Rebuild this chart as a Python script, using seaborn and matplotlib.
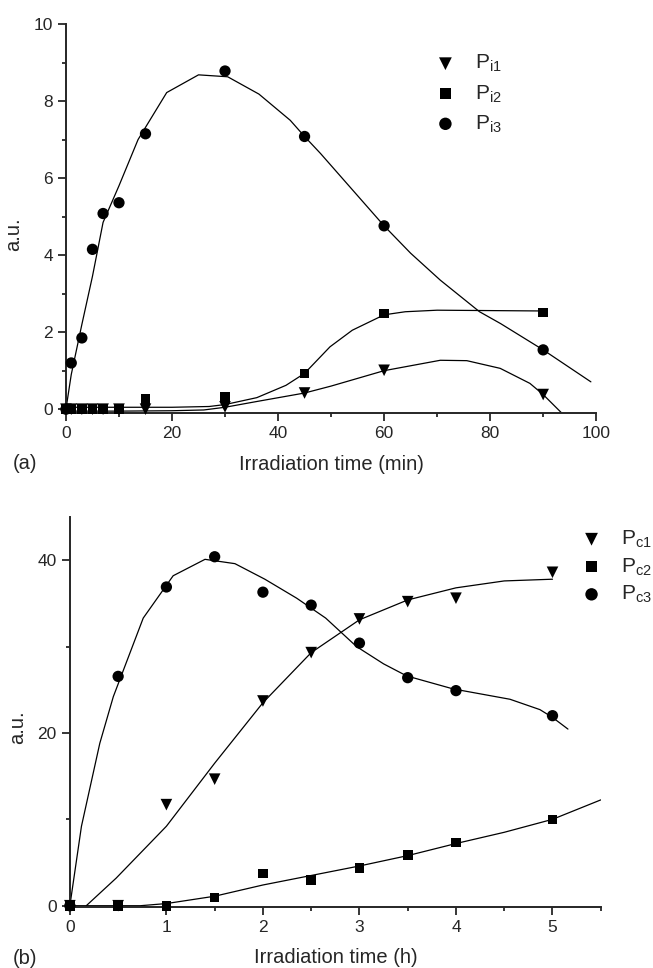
import matplotlib
matplotlib.use('Agg')
import matplotlib.pyplot as plt
from matplotlib.ticker import MultipleLocator
import seaborn as sns

# ---- panel (a): irradiation time in minutes ----
t_min = [0, 1, 3, 5, 7, 10, 15, 30, 45, 60, 90]
pi1 = [0, 0, 0, 0, 0, 0, 0, 0.06, 0.42, 1.01, 0.38]
pi2 = [0, 0, 0, 0, 0, 0, 0.26, 0.32, 0.93, 2.48, 2.51]
pi3 = [0, 1.2, 1.85, 4.15, 5.08, 5.36, 7.15, 8.78, 7.08, 4.76, 1.54]

# fitted curves
pi1_fit_t = [0, 10, 20, 26, 30, 36, 45, 50, 60, 70.6, 75.6, 81.9, 87.5, 90, 93.5]
pi1_fit_y = [-0.05, -0.05, -0.04, -0.02, 0.05, 0.2, 0.42, 0.6, 1.0, 1.27, 1.26, 1.06, 0.67, 0.38, -0.1]
pi2_fit_t = [0, 10, 20, 27, 30, 36, 41.5, 45, 49.8, 54, 60, 64, 70, 90]
pi2_fit_y = [0.05, 0.05, 0.05, 0.07, 0.12, 0.3, 0.62, 0.93, 1.62, 2.05, 2.45, 2.53, 2.57, 2.55]
pi3_fit_t = [0, 1, 3, 5, 7, 10, 13.6, 19, 25, 30.5, 36.4, 42.3, 45, 48, 54, 60, 65, 70.6, 78, 82, 90, 99]
pi3_fit_y = [0, 0.9, 2.2, 3.45, 4.85, 5.8, 7.0, 8.22, 8.68, 8.63, 8.18, 7.5, 7.08, 6.64, 5.7, 4.76, 4.05, 3.35, 2.53, 2.22, 1.54, 0.71]

# ---- panel (b): irradiation time in hours ----
t_h = [0, 0.5, 1, 1.5, 2, 2.5, 3, 3.5, 4, 5]
pc1 = [0, 0, 11.7, 14.65, 23.7, 29.3, 33.2, 35.2, 35.6, 38.6]
pc2 = [0, 0, 0, 0.93, 3.75, 2.98, 4.4, 5.88, 7.3, 10.0]
pc3 = [0, 26.55, 36.9, 40.4, 36.3, 34.8, 30.4, 26.4, 24.9, 22.0]

pc1_fit_t = [0.17, 0.48, 1.0, 1.5, 2.0, 2.5, 3.0, 3.5, 4.0, 4.5, 5.0]
pc1_fit_y = [0, 3.2, 9.2, 16.5, 23.5, 29.3, 33.1, 35.4, 36.8, 37.6, 37.8]
pc2_fit_t = [0, 0.5, 0.73, 1.0, 1.5, 2.0, 2.5, 3.0, 3.5, 4.0, 4.5, 5.0, 5.5]
pc2_fit_y = [0, 0, 0, 0.25, 1.1, 2.4, 3.5, 4.6, 5.8, 7.2, 8.5, 10.0, 12.25]
pc3_fit_t = [0, 0.12, 0.31, 0.45, 0.76, 1.07, 1.4, 1.71, 2.02, 2.35, 2.65, 2.97, 3.25, 3.49, 3.97, 4.56, 4.87, 5.0, 5.16]
pc3_fit_y = [0, 9.2, 18.8, 24.2, 33.3, 38.2, 40.1, 39.6, 37.8, 35.6, 33.3, 30.0, 28.0, 26.6, 25.1, 23.9, 22.7, 21.8, 20.45]

labels_a = ['P$_{i1}$', 'P$_{i2}$', 'P$_{i3}$']
labels_b = ['P$_{c1}$', 'P$_{c2}$', 'P$_{c3}$']

sns.set_style('ticks')
plt.rcParams['font.family'] = ['Liberation Sans', 'DejaVu Sans']
plt.rcParams['mathtext.default'] = 'regular'

fig = plt.figure(figsize=(6.53, 9.68), dpi=100)
ax1 = fig.add_axes([0.101, 0.5733, 0.812, 0.4019])
ax2 = fig.add_axes([0.107, 0.0630, 0.813, 0.4029])

markers = ['v', 's', 'o']
sizes = [70, 48, 66]


def draw_panel(ax, t, series, fits, labels):
    for (fx, fy) in fits:
        sns.lineplot(x=fx, y=fy, ax=ax, color='black', linewidth=0.9,
                     estimator=None, sort=False)
    for y, m, s, lab in zip(series, markers, sizes, labels):
        sns.scatterplot(x=t, y=y, ax=ax, marker=m, s=s, color='black',
                        edgecolor='none', label=lab, clip_on=False, zorder=3)
    sns.despine(ax=ax)
    for sp in ['left', 'bottom']:
        ax.spines[sp].set_linewidth(1.4)
    ax.tick_params(which='major', direction='out', length=5.5, width=1.3,
                   labelsize=12.5, pad=4)
    ax.tick_params(which='minor', direction='out', length=3, width=1.3)
    ax.set_ylabel('a.u.', fontsize=14.5)
    ax.yaxis.set_label_coords(-0.08, 0.46)


draw_panel(ax1, t_min, [pi1, pi2, pi3],
           [(pi1_fit_t, pi1_fit_y), (pi2_fit_t, pi2_fit_y), (pi3_fit_t, pi3_fit_y)],
           labels_a)
ax1.set_xlim(0, 100)
ax1.set_ylim(-0.1, 10)
ax1.xaxis.set_major_locator(MultipleLocator(20))
ax1.xaxis.set_minor_locator(MultipleLocator(10))
ax1.yaxis.set_major_locator(MultipleLocator(2))
ax1.yaxis.set_minor_locator(MultipleLocator(1))
ax1.set_xlabel('Irradiation time (min)', fontsize=14.5)
ax1.xaxis.set_label_coords(0.5, -0.108)
ax1.legend(loc='upper left', bbox_to_anchor=(0.696, 0.925), frameon=False,
           fontsize=15, handlelength=1.0, handletextpad=0.9,
           labelspacing=0.42, borderpad=0, borderaxespad=0, markerscale=1.1)

draw_panel(ax2, t_h, [pc1, pc2, pc3],
           [(pc1_fit_t, pc1_fit_y), (pc2_fit_t, pc2_fit_y), (pc3_fit_t, pc3_fit_y)],
           labels_b)
ax2.set_xlim(0, 5.5)
ax2.set_ylim(-0.15, 45)
ax2.xaxis.set_major_locator(MultipleLocator(1))
ax2.xaxis.set_minor_locator(MultipleLocator(0.5))
ax2.yaxis.set_major_locator(MultipleLocator(20))
ax2.yaxis.set_minor_locator(MultipleLocator(10))
ax2.set_xlabel('Irradiation time (h)', fontsize=14.5)
ax2.xaxis.set_label_coords(0.5, -0.105)
ax2.legend(loc='upper left', bbox_to_anchor=(0.963, 0.97), frameon=False,
           fontsize=15, handlelength=1.0, handletextpad=0.9,
           labelspacing=0.3, borderpad=0, borderaxespad=0, markerscale=1.1)

fig.text(13 / 653, 1 - 464 / 968, '(a)', fontsize=14.5, ha='left', va='center')
fig.text(13 / 653, 1 - 958 / 968, '(b)', fontsize=14.5, ha='left', va='center')

fig.savefig('out.png', dpi=100)
